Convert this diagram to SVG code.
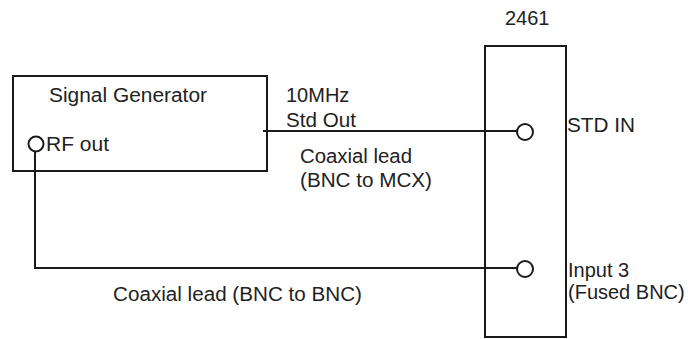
<svg xmlns="http://www.w3.org/2000/svg" width="688" height="339" viewBox="0 0 688 339">
<style>
.box{fill:none;stroke:#1a1a1a;stroke-width:2}
.ln{fill:none;stroke:#1a1a1a;stroke-width:2}
.port{fill:#fff;stroke:#1a1a1a;stroke-width:2}
text{font-family:"Liberation Sans",Arial,sans-serif;font-size:20px;fill:#222}
</style>
<rect width="688" height="339" fill="#fff"/>
<g id="connectors">
<polyline class="ln" points="263,131 517,131"/>
<polyline class="ln" points="35,151 35,268 517,268"/>
</g>
<g id="signal-generator">
<rect class="box" x="13" y="76" width="254" height="95"/>
<text x="49" y="102" textLength="158" lengthAdjust="spacingAndGlyphs">Signal Generator</text>
<circle class="port" cx="36" cy="144" r="7.5"/>
<text x="46" y="151" textLength="63" lengthAdjust="spacingAndGlyphs">RF out</text>
</g>
<g id="unit-2461">
<rect class="box" x="485" y="46" width="81" height="291"/>
<text x="505" y="25">2461</text>
<circle class="port" cx="525" cy="132" r="8"/>
<circle class="port" cx="525" cy="269" r="8"/>
<text x="567" y="132" textLength="68" lengthAdjust="spacingAndGlyphs">STD IN</text>
<text x="568" y="277">Input 3</text>
<text x="568" y="299">(Fused BNC)</text>
</g>
<g id="labels">
<text x="286" y="102">10MHz</text>
<text x="286" y="127" textLength="70" lengthAdjust="spacingAndGlyphs">Std Out</text>
<text x="300" y="163" textLength="112" lengthAdjust="spacingAndGlyphs">Coaxial lead</text>
<text x="300" y="187" textLength="132" lengthAdjust="spacingAndGlyphs">(BNC to MCX)</text>
<text x="113" y="301" textLength="249" lengthAdjust="spacingAndGlyphs">Coaxial lead (BNC to BNC)</text>
</g>
</svg>
